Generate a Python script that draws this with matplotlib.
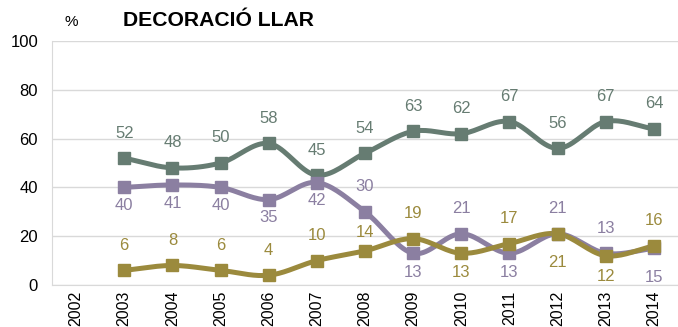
import numpy as np
import matplotlib.pyplot as plt

plt.rcParams['font.family'] = ['Liberation Sans', 'DejaVu Sans']

years = ['2002', '2003', '2004', '2005', '2006', '2007', '2008',
         '2009', '2010', '2011', '2012', '2013', '2014']
# 2002 has no data
serie_verd = [52, 48, 50, 58, 45, 54, 63, 62, 67, 56, 67, 64]
serie_lila = [40, 41, 40, 35, 42, 30, 13, 21, 13, 21, 13, 15]
serie_or = [6, 8, 6, 4, 10, 14, 19, 13, 17, 21, 12, 16]
# label offset in points (positive = above the point)
off_verd = [18] * 12
off_lila = [-13, -13, -13, -13, -13, 18, -14, 18, -14, 18, 18, -21]
off_or = [18, 18, 18, 18, 18, 13, 18, -14, 18, -21, -15, 18]

c_verd = '#667c72'
c_lila = '#8b7fa1'
c_or = '#9b8a3d'


def smooth(x, y, n=20):
    # catmull-rom curve through the points (like excel smoothed lines)
    x = np.asarray(x, float)
    y = np.asarray(y, float)
    px = np.concatenate([[2 * x[0] - x[1]], x, [2 * x[-1] - x[-2]]])
    py = np.concatenate([[2 * y[0] - y[1]], y, [2 * y[-1] - y[-2]]])
    xs, ys = [], []
    t = np.linspace(0, 1, n)
    for i in range(1, len(px) - 2):
        for p, out in ((px, xs), (py, ys)):
            p0, p1, p2, p3 = p[i - 1], p[i], p[i + 1], p[i + 2]
            out.extend(0.5 * ((2 * p1) + (-p0 + p2) * t +
                              (2 * p0 - 5 * p1 + 4 * p2 - p3) * t ** 2 +
                              (-p0 + 3 * p1 - 3 * p2 + p3) * t ** 3))
    return xs, ys


fig = plt.figure(figsize=(6.78, 3.27), dpi=100)
ax = fig.add_axes([52 / 678, 1 - 285 / 327, 626 / 678, 244 / 327])

x = np.arange(1, 13)
for vals, offs, col in ((serie_verd, off_verd, c_verd),
                        (serie_lila, off_lila, c_lila),
                        (serie_or, off_or, c_or)):
    sx, sy = smooth(x, vals)
    ax.plot(sx, sy, color=col, lw=3.6, solid_capstyle='round', zorder=3)
    ax.plot(x, vals, ls='none', marker='s', ms=8, color=col, zorder=4)
    for xi, v, o in zip(x, vals, offs):
        ax.annotate(str(v), (xi, v), xytext=(0, o), textcoords='offset points',
                    ha='center', va='center', color=col, fontsize=12)

ax.set_xlim(-0.5, 12.5)
ax.set_ylim(0, 100)
ax.set_yticks(range(0, 101, 20))
ax.set_xticks(range(13))
ax.set_xticklabels(years, rotation=90)
ax.tick_params(axis='x', length=0, labelsize=11.5, pad=4)
ax.tick_params(axis='y', length=0, labelsize=12, pad=10)
ax.grid(axis='y', color='#d9d9d9', lw=1)
ax.set_axisbelow(True)
for s in ['top', 'right']:
    ax.spines[s].set_visible(False)
ax.spines['left'].set_color('#d9d9d9')
ax.spines['bottom'].set_color('#d9d9d9')

fig.text(71 / 678, 1 - 22 / 327, '%', fontsize=11, ha='center', va='center')
fig.text(123 / 678, 1 - 21 / 327, 'DECORACIÓ LLAR', fontsize=15.2,
         fontweight='bold', ha='left', va='center')

fig.savefig('out.png', dpi=100)
